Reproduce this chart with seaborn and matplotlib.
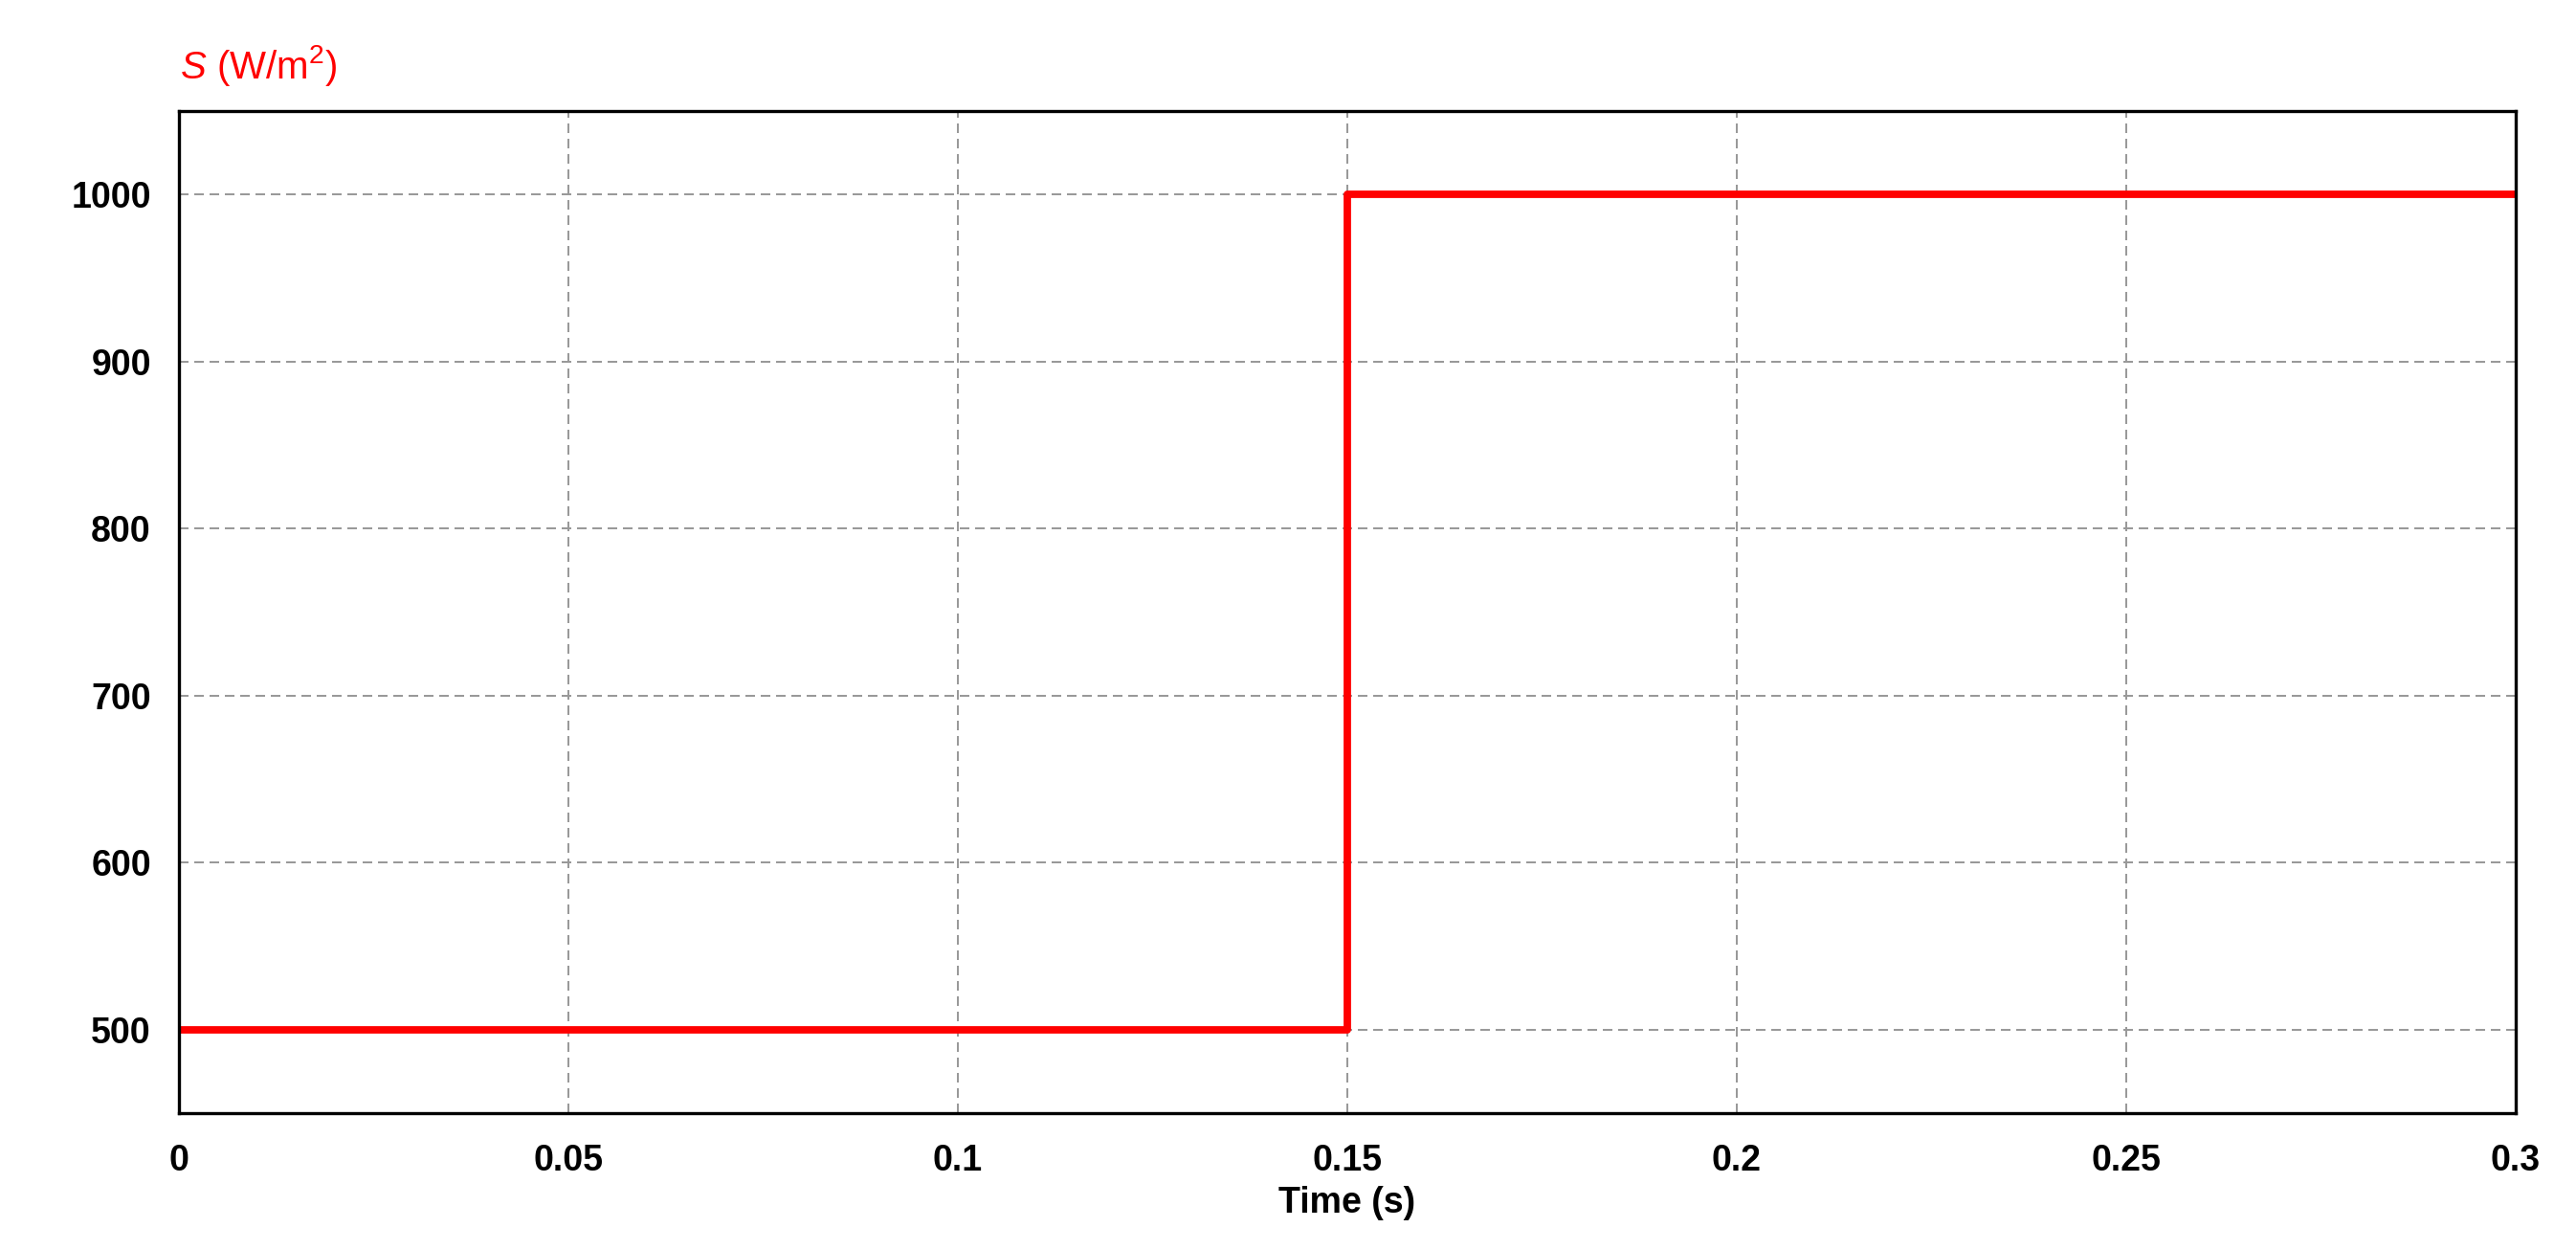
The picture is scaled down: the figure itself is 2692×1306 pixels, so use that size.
import matplotlib
matplotlib.use("Agg")
import matplotlib.pyplot as plt
import seaborn as sns
import pandas as pd

time_s = [0.0, 0.15, 0.15, 0.3]
irradiance = [500, 500, 1000, 1000]
x_ticks = [0, 0.05, 0.1, 0.15, 0.2, 0.25, 0.3]
x_tick_labels = ["0", "0.05", "0.1", "0.15", "0.2", "0.25", "0.3"]
y_ticks = [500, 600, 700, 800, 900, 1000]

sns.set_theme(style="white")
plt.rcParams['font.family'] = ['Liberation Sans', 'DejaVu Sans']
plt.rcParams['mathtext.fontset'] = 'custom'
plt.rcParams['mathtext.rm'] = 'Liberation Sans'
plt.rcParams['mathtext.it'] = 'Liberation Sans:italic'
plt.rcParams['text.color'] = 'black'
plt.rcParams['axes.labelcolor'] = 'black'
plt.rcParams['xtick.color'] = 'black'
plt.rcParams['ytick.color'] = 'black'

df = pd.DataFrame({"t": time_s, "S": irradiance})

fig = plt.figure(figsize=(26.92, 13.06), dpi=100)
ax = fig.add_axes([187/2692, (1306-1163)/1306, (2629-187)/2692, (1163-116)/1306])

sns.lineplot(data=df, x="t", y="S", sort=False, estimator=None, errorbar=None,
             color="#ff0000", lw=5.6, ax=ax, zorder=3)

ax.set_xlim(0, 0.3)
ax.set_ylim(450, 1050)
ax.set_xticks(x_ticks)
ax.set_xticklabels(x_tick_labels)
ax.set_yticks(y_ticks)
ax.grid(True, color="#999999", lw=1.44, ls=(0, (5, 3)), zorder=1)
for s in ax.spines.values():
    s.set_color("black")
    s.set_linewidth(2.4)
    s.set_zorder(4)
ax.tick_params(axis="both", length=0, labelsize=27)
ax.tick_params(axis="x", pad=23)
ax.tick_params(axis="y", pad=21)
for lab in ax.get_xticklabels() + ax.get_yticklabels():
    lab.set_fontweight("bold")
ax.set_xlabel("Time (s)", fontsize=27, fontweight="bold", labelpad=6)
ax.set_ylabel("")

fig.text(188/2692, 1 - 82/1306, r"$\mathit{S}$ (W/m$^2$)", color="#ff0000",
         fontsize=29, ha="left", va="baseline")

fig.savefig("out.png", dpi=100, facecolor="white")
